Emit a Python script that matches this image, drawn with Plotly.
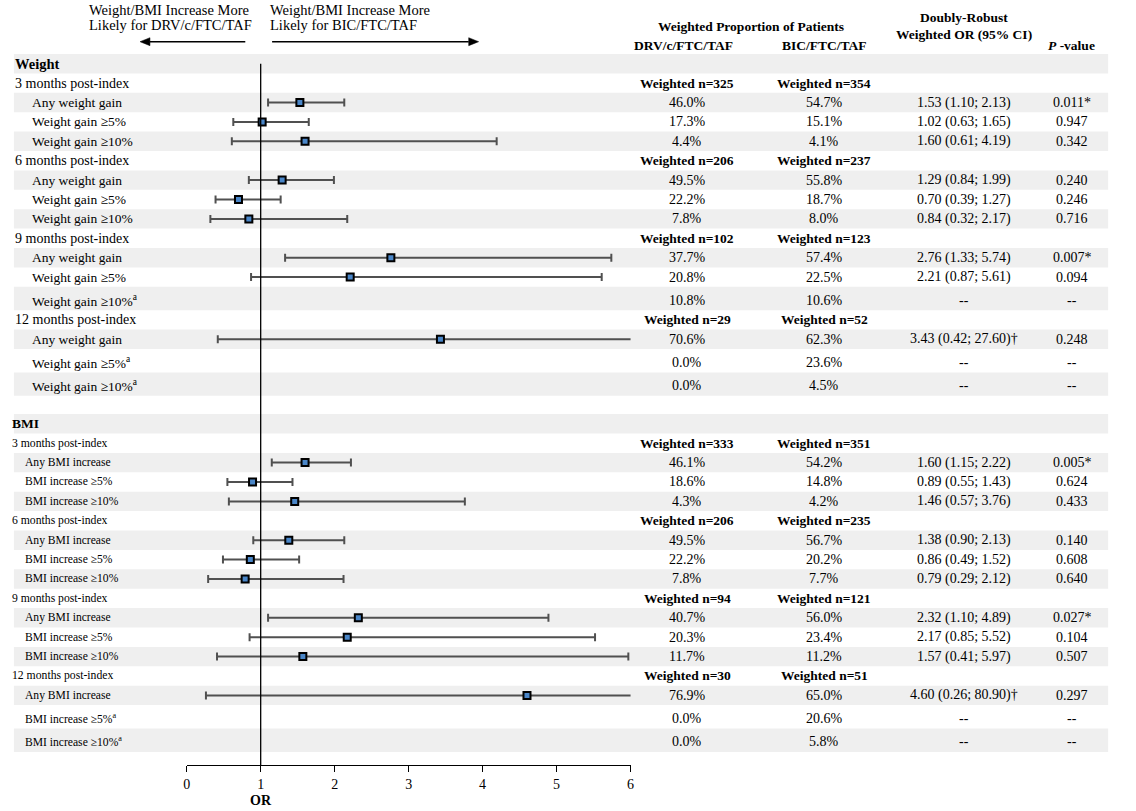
import plotly.graph_objects as go

# ---------------- data ----------------
row_labels = [
    "Weight", "3 months post-index", "Any weight gain", "Weight gain ≥5%", "Weight gain ≥10%",
    "6 months post-index", "Any weight gain", "Weight gain ≥5%", "Weight gain ≥10%",
    "9 months post-index", "Any weight gain", "Weight gain ≥5%", "Weight gain ≥10%<sup>a</sup>",
    "12 months post-index", "Any weight gain", "Weight gain ≥5%<sup>a</sup>", "Weight gain ≥10%<sup>a</sup>",
    "",
    "BMI", "3 months post-index", "Any BMI increase", "BMI increase ≥5%", "BMI increase ≥10%",
    "6 months post-index", "Any BMI increase", "BMI increase ≥5%", "BMI increase ≥10%",
    "9 months post-index", "Any BMI increase", "BMI increase ≥5%", "BMI increase ≥10%",
    "12 months post-index", "Any BMI increase", "BMI increase ≥5%<sup>a</sup>", "BMI increase ≥10%<sup>a</sup>",
]
row_kind = ["hdr", "time", "item", "item", "item", "time", "item", "item", "item",
            "time", "item", "item", "item_a", "time", "item", "item_a", "item_a", "blank",
            "hdr", "time", "item", "item", "item", "time", "item", "item", "item",
            "time", "item", "item", "item", "time", "item", "item_a", "item_a"]

n_drv = [None, 325, None, None, None, 206, None, None, None, 102, None, None, None, 29, None, None, None, None,
         None, 333, None, None, None, 206, None, None, None, 94, None, None, None, 30, None, None, None]
n_bic = [None, 354, None, None, None, 237, None, None, None, 123, None, None, None, 52, None, None, None, None,
         None, 351, None, None, None, 235, None, None, None, 121, None, None, None, 51, None, None, None]

drv_pct = [None, None, 46.0, 17.3, 4.4, None, 49.5, 22.2, 7.8, None, 37.7, 20.8, 10.8, None, 70.6, 0.0, 0.0, None,
           None, None, 46.1, 18.6, 4.3, None, 49.5, 22.2, 7.8, None, 40.7, 20.3, 11.7, None, 76.9, 0.0, 0.0]
bic_pct = [None, None, 54.7, 15.1, 4.1, None, 55.8, 18.7, 8.0, None, 57.4, 22.5, 10.6, None, 62.3, 23.6, 4.5, None,
           None, None, 54.2, 14.8, 4.2, None, 56.7, 20.2, 7.7, None, 56.0, 23.4, 11.2, None, 65.0, 20.6, 5.8]

or_est = [None, None, 1.53, 1.02, 1.60, None, 1.29, 0.70, 0.84, None, 2.76, 2.21, None, None, 3.43, None, None, None,
          None, None, 1.60, 0.89, 1.46, None, 1.38, 0.86, 0.79, None, 2.32, 2.17, 1.57, None, 4.60, None, None]
ci_lo = [None, None, 1.10, 0.63, 0.61, None, 0.84, 0.39, 0.32, None, 1.33, 0.87, None, None, 0.42, None, None, None,
         None, None, 1.15, 0.55, 0.57, None, 0.90, 0.49, 0.29, None, 1.10, 0.85, 0.41, None, 0.26, None, None]
ci_hi = [None, None, 2.13, 1.65, 4.19, None, 1.99, 1.27, 2.17, None, 5.74, 5.61, None, None, 27.60, None, None, None,
         None, None, 2.22, 1.43, 3.76, None, 2.13, 1.52, 2.12, None, 4.89, 5.52, 5.97, None, 80.90, None, None]
or_note = {14: "†", 32: "†"}

p_text = [None, None, "0.011*", "0.947", "0.342", None, "0.240", "0.246", "0.716", None, "0.007*", "0.094", "--",
          None, "0.248", "--", "--", None,
          None, None, "0.005*", "0.624", "0.433", None, "0.140", "0.608", "0.640", None, "0.027*", "0.104", "0.507",
          None, "0.297", "--", "--"]

x_ticks = [0, 1, 2, 3, 4, 5, 6]

# ---------------- layout helpers ----------------
W, H = 1136, 811
FONT = "Liberation Serif"
row_h = {"hdr": 19.4, "time": 19.4, "item": 19.4, "item_a": 23.4, "blank": 18.3}
tops, bots = [], []
y = 54.0
for k in row_kind:
    tops.append(y)
    y += row_h[k]
    bots.append(y)
centers = [(t + b) / 2 for t, b in zip(tops, bots)]
AX_Y = 765.0
X0_PX, X6_PX = 184.0, 631.0
LPAD = 4  # annotation inner padding compensation for left-anchored text


def px(xp):
    return xp / W


def py(yp):
    return 1 - yp / H


fig = go.Figure()
shapes = []
ann = []

# alternating row bands
for i in range(len(row_kind)):
    if i % 2 == 0:
        shapes.append(dict(type="rect", xref="paper", yref="paper",
                           x0=px(10), x1=px(1112), y0=py(bots[i]), y1=py(tops[i]),
                           fillcolor="#efefef", line=dict(width=0), layer="below"))


def add_text(x, yy, text, size=14, anchor="center", bold=False, color="black"):
    if anchor == "left":
        x -= LPAD
    ann.append(dict(x=px(x), y=py(yy), xref="paper", yref="paper",
                    text=("<b>%s</b>" % text) if bold else text, showarrow=False,
                    xanchor=anchor, yanchor="middle",
                    font=dict(family=FONT, size=size, color=color)))


for i, lab in enumerate(row_labels):
    k = row_kind[i]
    bmi = i >= 18
    cy = centers[i] + (1.5 if k == "item_a" else 0)
    if k == "hdr":
        add_text(10 if bmi else 13, cy, lab, size=13.5 if bmi else 14.5, anchor="left", bold=True)
    elif k == "time":
        add_text(10 if bmi else 13, cy, lab, size=11.7 if bmi else 14, anchor="left")
    elif k in ("item", "item_a"):
        add_text(23 if bmi else 30, cy, lab, size=11.6 if bmi else 13.5, anchor="left")
    if n_drv[i] is not None:
        add_text(688, cy, "Weighted n=%d" % n_drv[i], size=13.5, bold=True)
        add_text(826, cy, "Weighted n=%d" % n_bic[i], size=13.5, bold=True)
    if drv_pct[i] is not None:
        add_text(688, cy, "%.1f%%" % drv_pct[i])
        add_text(826, cy, "%.1f%%" % bic_pct[i])
        if or_est[i] is not None:
            add_text(967, cy, "%.2f (%.2f; %.2f)%s" % (or_est[i], ci_lo[i], ci_hi[i], or_note.get(i, "")))
        else:
            add_text(967, cy, "--")
        add_text(1076, cy, p_text[i])

# column headers
add_text(752, 27, "Weighted Proportion of Patients", size=13.5, bold=True)
add_text(684, 46, "DRV/c/FTC/TAF", size=13.5, bold=True)
add_text(826, 46, "BIC/FTC/TAF", size=13.5, bold=True)
add_text(967, 17, "Doubly-Robust", size=13.5, bold=True)
add_text(967, 35, "Weighted OR (95% CI)", size=13.5, bold=True)
add_text(1075, 46, "<b><i>P</i> -value</b>", size=13.5)

# direction labels
add_text(88, 9.5, "Weight/BMI Increase More", size=14.5, anchor="left")
add_text(88, 25.5, "Likely for DRV/c/FTC/TAF", size=14.5, anchor="left")
add_text(270, 9.5, "Weight/BMI Increase More", size=14.5, anchor="left")
add_text(270, 25.5, "Likely for BIC/FTC/TAF", size=14.5, anchor="left")

# direction arrows (line + filled head)
AY = 41.7
for head, tail in ((137, 243), (478, 270)):
    d = 1 if head > tail else -1
    base = head - d * 10
    shapes.append(dict(type="line", xref="paper", yref="paper",
                       x0=px(tail), x1=px(base), y0=py(AY), y1=py(AY),
                       line=dict(color="black", width=1.5)))
    shapes.append(dict(type="path", xref="paper", yref="paper",
                       path="M %f,%f L %f,%f L %f,%f Z" % (px(head), py(AY), px(base), py(AY - 4),
                                                           px(base), py(AY + 4)),
                       fillcolor="black", line=dict(color="black", width=0.5)))

# axis title
add_text(258.5, 800, "OR", size=14, bold=True)

# reference line at OR = 1
shapes.append(dict(type="line", xref="x", yref="y", x0=1, x1=1, y0=centers[0], y1=AX_Y,
                   line=dict(color="black", width=1.3)))

# forest points
idx = [i for i in range(len(or_est)) if or_est[i] is not None]
fig.add_trace(go.Scatter(
    x=[or_est[i] for i in idx],
    y=[centers[i] for i in idx],
    mode="markers",
    marker=dict(symbol="square", size=7, color="#4a86c8", line=dict(color="black", width=2)),
    error_x=dict(type="data", symmetric=False,
                 array=[ci_hi[i] - or_est[i] for i in idx],
                 arrayminus=[or_est[i] - ci_lo[i] for i in idx],
                 color="#505050", thickness=2, width=4),
    hoverinfo="skip", showlegend=False, cliponaxis=False,
))

fig.update_layout(
    width=W, height=H,
    margin=dict(l=0, r=0, t=0, b=0, pad=0),
    paper_bgcolor="white", plot_bgcolor="rgba(0,0,0,0)",
    shapes=shapes, annotations=ann,
    font=dict(family=FONT, size=14, color="black"),
    xaxis=dict(domain=[X0_PX / W, X6_PX / W], range=[0, 6], tickvals=x_ticks,
               ticks="outside", ticklen=6, tickwidth=1.3, tickcolor="black",
               showline=True, linecolor="black", linewidth=1.3,
               showgrid=False, zeroline=False, fixedrange=True,
               tickfont=dict(family=FONT, size=14, color="black")),
    yaxis=dict(domain=[1 - AX_Y / H, 1], range=[AX_Y, 0], visible=False,
               showgrid=False, zeroline=False, fixedrange=True),
)

fig.write_html("out.html", config={"displayModeBar": False},
               post_script="document.body.style.margin='0';document.body.style.overflow='hidden';")
